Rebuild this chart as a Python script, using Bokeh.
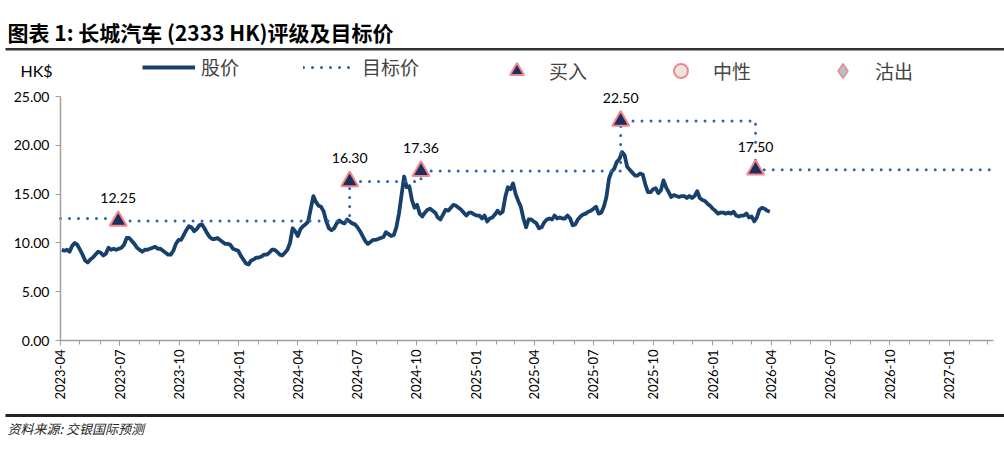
import math
import pandas as pd
from bokeh.plotting import figure
from bokeh.models import (Range1d, FixedTicker, DatetimeTickFormatter, NumeralTickFormatter,
                          Label, LabelSet, ColumnDataSource, Legend, LegendItem, BoxAnnotation)
from bokeh.embed import file_html
from bokeh.resources import INLINE
from bokeh.core.properties import value

# ---------------- data ----------------
price_start = "2023-04-03"   # closes every 4 days
price_step = "4D"
price_values = [
    9.3, 9.2, 9.3, 9.1, 9.7, 10.0, 9.8, 9.3, 8.8, 8.2,
    8.0, 8.3, 8.5, 8.8, 9.1, 9.0, 8.7, 8.9, 9.5, 9.3,
    9.4, 9.3, 9.4, 9.5, 9.8, 10.5, 10.5, 10.2, 9.9, 9.5,
    9.3, 9.1, 9.3, 9.3, 9.4, 9.5, 9.6, 9.4, 9.4, 9.2,
    9.0, 8.8, 8.8, 9.2, 9.9, 10.3, 10.3, 10.8, 11.3, 11.7,
    11.6, 11.2, 11.4, 11.8, 11.9, 11.5, 11.0, 10.6, 10.4, 10.4,
    10.5, 10.3, 10.1, 9.9, 9.9, 9.8, 9.4, 9.3, 9.2, 8.7,
    8.3, 7.9, 7.8, 8.2, 8.3, 8.5, 8.5, 8.6, 8.8, 8.8,
    9.0, 9.3, 9.3, 9.1, 8.8, 8.7, 9.0, 9.3, 10.0, 11.5,
    11.2, 10.7, 11.4, 11.7, 11.9, 12.2, 13.5, 14.8, 14.2, 13.8,
    13.7, 13.2, 12.2, 11.5, 11.3, 11.5, 12.0, 12.3, 12.1, 12.0,
    12.4, 12.2, 12.0, 11.9, 11.6, 11.2, 10.7, 10.2, 9.9, 10.1,
    10.3, 10.3, 10.4, 10.5, 10.6, 11.1, 10.9, 10.7, 10.8, 11.6,
    13.0, 14.9, 16.8, 15.7, 15.8, 14.4, 13.6, 13.9, 13.0, 12.7,
    13.1, 13.4, 13.5, 13.3, 13.1, 12.6, 12.4, 12.9, 13.4, 13.3,
    13.6, 13.9, 13.8, 13.6, 13.4, 13.1, 12.8, 13.1, 13.1, 12.9,
    12.8, 12.8, 12.5, 12.8, 12.2, 12.5, 12.6, 12.9, 13.3, 13.0,
    13.2, 14.7, 15.7, 15.5, 16.1, 15.0, 14.3, 13.7, 12.5, 11.6,
    12.4, 12.4, 12.2, 12.0, 11.5, 11.6, 12.1, 12.4, 12.5, 12.4,
    12.8, 12.5, 12.6, 12.5, 12.5, 12.8, 12.5, 11.8, 11.9, 12.4,
    12.7, 12.9, 13.0, 13.2, 13.3, 13.5, 13.7, 13.0, 13.1, 13.7,
    14.7, 16.6, 17.3, 17.6, 18.3, 18.6, 19.3, 19.0, 17.8, 17.5,
    17.2, 16.9, 16.9, 17.1, 17.0, 16.0, 15.2, 15.2, 15.5, 15.6,
    15.1, 15.4, 16.4, 15.7, 15.2, 14.7, 14.9, 14.8, 14.7, 14.8,
    14.8, 14.6, 14.8, 14.6, 14.8, 15.3, 14.6, 14.4, 14.3, 14.0,
    13.8, 13.5, 13.3, 13.0, 13.1, 13.1, 13.0, 13.1, 13.0, 13.2,
    12.8, 12.7, 12.8, 12.8, 13.0, 12.6, 12.7, 12.2, 12.6, 13.4,
    13.6, 13.5, 13.3, 13.2,
]
price_dates = pd.date_range(price_start, periods=len(price_values), freq=price_step)

rating_dates = ["2023-06-29", "2024-06-20", "2024-10-08", "2025-08-12", "2026-03-08"]
rating_targets = [12.25, 16.30, 17.36, 22.50, 17.50]
rating_labels = ["12.25", "16.30", "17.36", "22.50", "17.50"]
initial_target = 12.50

axis_start = "2023-04-01"
axis_end = "2027-03-10"
y_min, y_max = 0, 25
y_ticks = [0, 5, 10, 15, 20, 25]

title_text = "图表 1: 长城汽车 (2333 HK)评级及目标价"
source_text = "资料来源: 交银国际预测"
unit_text = "HK$"
legend_labels = ["股价", "目标价", "买入", "中性", "沽出"]

# ---------------- styles / layout ----------------
PRICE_C = "#17406D"
TGT_C = "#2B65AD"
TRI_FILL = "#1B2F5E"
PINK = "#F4868C"
AXIS_C = "#A0A0A0"
CJK = "Noto Sans CJK SC"
NUM = "Lato"

W, H = 1004, 451
PL, PR, PT, PB = 60, 993, 96, 340   # where the axes box sits on the canvas

t0, t1 = pd.Timestamp(axis_start), pd.Timestamp(axis_end)
ms_per_px = (t1 - t0) / (PR - PL)
u_per_px = (y_max - y_min) / (PB - PT)
x_range = Range1d(t0 - ms_per_px * PL, t1 + ms_per_px * (W - PR))
y_range = Range1d(y_min - u_per_px * (H - PB), y_max + u_per_px * PT)


def cx_to_x(cx):
    return x_range.start + ms_per_px * cx


def cy_to_y(cy):
    return y_range.end - u_per_px * cy


p = figure(width=W, height=H, x_axis_type="datetime", x_range=x_range, y_range=y_range,
           output_backend="svg", toolbar_location=None, min_border=0)
p.outline_line_color = None
p.xgrid.visible = False
p.ygrid.visible = False
p.background_fill_color = "white"
p.border_fill_color = "white"

# target step line
tx = [t0]
ty = [initial_target]
prev = initial_target
for d, t in zip(rating_dates, rating_targets):
    tx += [pd.Timestamp(d), pd.Timestamp(d)]
    ty += [prev, t]
    prev = t
tx.append(t1)
ty.append(prev)

r_price = p.line(price_dates, price_values, line_color=PRICE_C, line_width=3.8, line_join="round")
r_tgt = p.line(tx, ty, line_color=TGT_C, line_width=3, line_dash="0 9", line_cap="round")
r_buy = p.scatter([pd.Timestamp(d) for d in rating_dates], rating_targets, marker="triangle",
                  size=17, fill_color=TRI_FILL, line_color=PINK, line_width=2)
r_neu = p.scatter(x=[t0], y=[float("nan")], marker="circle", size=13, fill_color="#E6E6E6",
                  line_color=PINK, line_width=2)
r_sell = p.scatter(x=[t0], y=[float("nan")], marker="diamond", size=15, fill_color="#A9C4CB",
                   line_color=PINK, line_width=1.5)

src = ColumnDataSource(dict(x=[pd.Timestamp(d) for d in rating_dates], y=rating_targets, t=rating_labels))
p.add_layout(LabelSet(x="x", y="y", text="t", source=src, y_offset=23, text_align="center",
                      text_baseline="middle", text_font=value(NUM), text_font_size="14px",
                      text_color="black"))

# axes
p.yaxis.fixed_location = t0.value / 1e6
p.yaxis.bounds = (y_min, y_max)
p.yaxis.ticker = FixedTicker(ticks=y_ticks)
p.yaxis.formatter = NumeralTickFormatter(format="0.00")
p.yaxis.major_tick_out = 5
p.yaxis.major_tick_in = 0
p.yaxis.minor_tick_line_color = None
p.yaxis.axis_line_color = AXIS_C
p.yaxis.axis_line_width = 1.5
p.yaxis.major_tick_line_color = AXIS_C
p.yaxis.major_label_text_font = NUM
p.yaxis.major_label_text_font_size = "14px"
p.yaxis.major_label_text_color = "black"
p.yaxis.major_label_standoff = 6

major = pd.date_range(axis_start, axis_end, freq="QS-JAN")
minor = pd.date_range(axis_start, axis_end, freq="MS")
p.xaxis.fixed_location = y_min
p.xaxis.bounds = (t0, t1)
p.xaxis.ticker = FixedTicker(ticks=[d.value / 1e6 for d in major],
                             minor_ticks=[d.value / 1e6 for d in minor])
p.xaxis.formatter = DatetimeTickFormatter(days="%Y-%m", months="%Y-%m", years="%Y-%m")
p.xaxis.major_label_orientation = math.pi / 2
p.xaxis.major_tick_out = 5
p.xaxis.major_tick_in = 0
p.xaxis.minor_tick_out = 4
p.xaxis.minor_tick_in = 0
p.xaxis.axis_line_color = AXIS_C
p.xaxis.axis_line_width = 1.5
p.xaxis.major_tick_line_color = AXIS_C
p.xaxis.minor_tick_line_color = AXIS_C
p.xaxis.major_label_text_font = NUM
p.xaxis.major_label_text_font_size = "13px"
p.xaxis.major_label_text_color = "black"
p.xaxis.major_label_standoff = 4


def sx(cx):
    return cx


def sy(cy):
    return H - cy


# legends (one per item, placed by canvas position; location = bottom-left)
leg_specs = [(legend_labels[0], r_price, 142, 20), (legend_labels[1], r_tgt, 303, 20),
             (legend_labels[2], r_buy, 490, 35), (legend_labels[3], r_neu, 654, 35),
             (legend_labels[4], r_sell, 816, 37)]
for lab, rr, cx, gh in leg_specs:
    lg = Legend(items=[LegendItem(label=lab, renderers=[rr])], location=(sx(cx), sy(70 + gh / 2)),
                orientation="horizontal", glyph_width=53, glyph_height=gh, label_standoff=6,
                padding=0, margin=0, spacing=0, border_line_alpha=0, background_fill_alpha=0,
                label_text_font=CJK, label_text_font_size="19px", label_height=gh,
                label_text_baseline="middle")
    p.add_layout(lg, "center")

p.add_layout(Label(x=sx(7), y=sy(31), x_units="screen", y_units="screen", text=title_text,
                   text_font=CJK, text_font_style="bold", text_font_size="21px",
                   text_baseline="middle", text_align="left", text_color="black"))
p.add_layout(Label(x=sx(36), y=sy(70), x_units="screen", y_units="screen", text=unit_text,
                   text_font=NUM, text_font_size="16px", text_baseline="middle",
                   text_align="center", text_color="black"))
p.add_layout(Label(x=sx(7), y=sy(428), x_units="screen", y_units="screen", text=source_text,
                   text_font=CJK, text_font_style="italic", text_font_size="13px",
                   text_baseline="middle", text_align="left", text_color="#222222"))

# horizontal rules under the title and above the source line
for top_cy, bot_cy, col in [(47.5, 50, "#333333"), (413.5, 416.5, "#222222")]:
    p.add_layout(BoxAnnotation(left=cx_to_x(5), right=cx_to_x(W), top=cy_to_y(top_cy),
                               bottom=cy_to_y(bot_cy), fill_color=col, fill_alpha=1,
                               line_alpha=0, level="overlay"))

open("out.html", "w").write(file_html(p, INLINE))
